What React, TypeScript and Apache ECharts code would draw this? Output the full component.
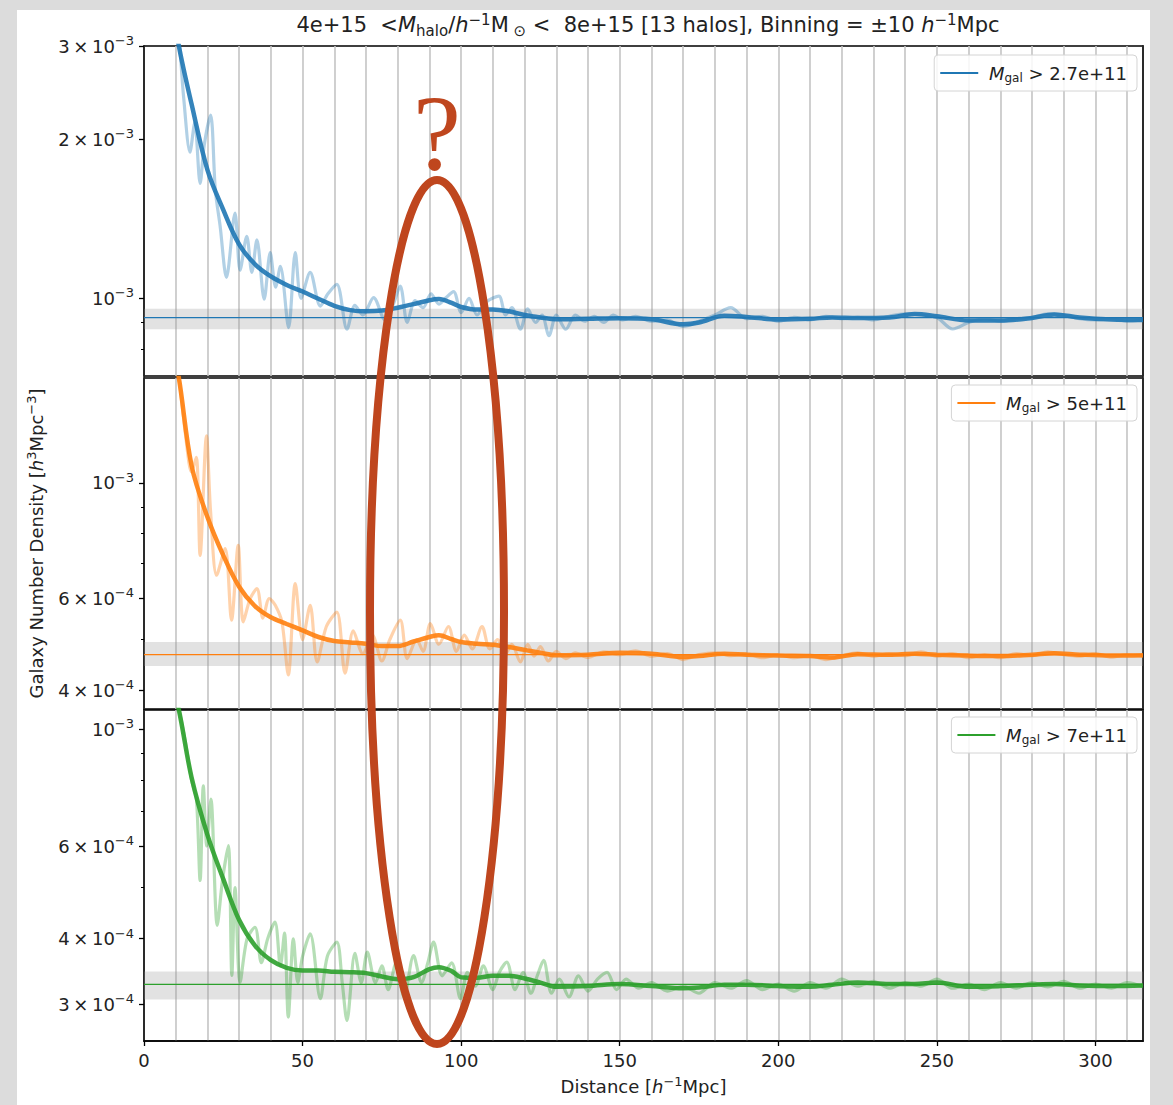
import React, { useEffect, useRef } from "react";
import * as echarts from "echarts";

// ---------- data (densities in units of 10^-3 h^3 Mpc^-3) ----------
const UNIT = 1e-3;
const X_MAX = 315;

const smoothX = [9, 11, 15, 20, 25, 30, 35, 40, 45, 50, 55, 60, 65, 70, 75, 80, 85, 90, 93, 97, 100, 105, 110, 115, 120, 125, 130, 140, 150, 160, 170, 175, 183, 190, 200, 210, 217, 225, 235, 243, 250, 260, 270, 280, 287, 295, 305, 315];
const blueSmooth = [3.6, 3.0, 2.33, 1.75, 1.47, 1.265, 1.16, 1.1, 1.06, 1.03, 0.998, 0.968, 0.95, 0.945, 0.948, 0.96, 0.975, 0.992, 0.997, 0.98, 0.963, 0.952, 0.953, 0.945, 0.93, 0.92, 0.913, 0.915, 0.917, 0.913, 0.893, 0.9, 0.927, 0.922, 0.912, 0.915, 0.92, 0.918, 0.92, 0.934, 0.925, 0.908, 0.908, 0.918, 0.932, 0.92, 0.912, 0.91];
const orangeSmooth = [1.8, 1.59, 1.08, 0.86, 0.726, 0.632, 0.58, 0.552, 0.536, 0.521, 0.506, 0.497, 0.494, 0.491, 0.486, 0.486, 0.496, 0.506, 0.51, 0.501, 0.495, 0.491, 0.489, 0.484, 0.478, 0.472, 0.467, 0.468, 0.472, 0.47, 0.463, 0.465, 0.47, 0.468, 0.466, 0.465, 0.462, 0.469, 0.468, 0.47, 0.468, 0.466, 0.465, 0.468, 0.471, 0.468, 0.466, 0.467];
const greenSmooth = [1.2, 1.088, 0.81, 0.63, 0.519, 0.434, 0.388, 0.364, 0.352, 0.348, 0.348, 0.346, 0.3455, 0.344, 0.339, 0.335, 0.338, 0.35, 0.353, 0.347, 0.338, 0.337, 0.34, 0.34, 0.336, 0.33, 0.324, 0.325, 0.328, 0.325, 0.322, 0.323, 0.327, 0.327, 0.325, 0.324, 0.327, 0.33, 0.328, 0.328, 0.33, 0.324, 0.325, 0.327, 0.328, 0.326, 0.325, 0.326];

const blueNoisyX = [9, 11, 12.5, 14.5, 16, 17.7, 19, 21, 22.5, 24, 26, 28.7, 30.3, 32.4, 34, 35.6, 37.9, 39.8, 41.5, 43, 45.6, 47.7, 49.5, 52.4, 55.6, 58, 60.8, 64, 66.5, 69, 72.4, 76, 78.5, 80.8, 83, 85.5, 88, 90.5, 93, 95, 97.6, 100, 102.5, 105, 108, 111.9, 114, 116, 118.7, 121, 123.5, 125.5, 127.7, 130, 133, 136, 139, 142, 145, 148, 151, 155, 160, 165, 170, 175, 180, 185, 190, 195, 200, 205, 210, 215, 220, 225, 230, 235, 240, 245, 250, 255, 260, 265, 270, 275, 280, 285, 290, 295, 300, 305, 310, 315];
const blueNoisy = [3.7, 3.1, 2.4, 1.89, 2.15, 1.65, 1.95, 2.22, 1.6, 1.37, 1.095, 1.45, 1.13, 1.31, 1.12, 1.29, 0.996, 1.22, 1.05, 1.15, 0.88, 1.22, 1.0, 1.12, 0.967, 1.02, 1.063, 0.874, 0.97, 0.93, 1.003, 0.91, 0.97, 1.055, 0.9, 0.99, 0.96, 1.02, 0.975, 1.0, 1.03, 0.94, 1.0, 0.93, 0.985, 1.01, 0.93, 0.96, 0.874, 0.955, 0.9, 0.93, 0.85, 0.93, 0.874, 0.93, 0.905, 0.925, 0.9, 0.93, 0.91, 0.925, 0.905, 0.91, 0.885, 0.905, 0.93, 0.96, 0.915, 0.925, 0.905, 0.92, 0.91, 0.925, 0.915, 0.92, 0.91, 0.925, 0.935, 0.93, 0.92, 0.875, 0.9, 0.915, 0.905, 0.915, 0.92, 0.935, 0.93, 0.915, 0.91, 0.915, 0.905, 0.91];

const orangeNoisyX = [9, 11, 13, 15, 16.5, 17.7, 19.7, 21, 22.9, 25.6, 27.6, 29.7, 31.3, 33.5, 35.6, 37.5, 39.5, 41.4, 43.5, 45.5, 47.7, 50, 52.4, 54.6, 57.5, 60.8, 63.4, 66, 69, 72, 75, 77.5, 80.8, 83, 86, 88, 90.3, 93, 96, 98.5, 101, 103.5, 106.6, 109, 111.5, 114, 116, 118.7, 121, 123, 125, 127.5, 130, 133, 136, 140, 145, 150, 155, 160, 165, 170, 175, 180, 185, 190, 195, 200, 205, 210, 215, 220, 225, 230, 235, 240, 245, 250, 255, 260, 265, 270, 275, 280, 285, 290, 295, 300, 305, 310, 315];
const orangeNoisy = [1.9, 1.6, 1.25, 1.05, 1.12, 0.726, 1.232, 0.88, 0.665, 0.748, 0.545, 0.759, 0.541, 0.6, 0.627, 0.55, 0.6, 0.582, 0.54, 0.428, 0.641, 0.5, 0.582, 0.453, 0.53, 0.565, 0.431, 0.52, 0.47, 0.51, 0.455, 0.5, 0.545, 0.46, 0.5, 0.475, 0.537, 0.49, 0.53, 0.475, 0.51, 0.48, 0.53, 0.48, 0.5, 0.47, 0.49, 0.453, 0.49, 0.465, 0.485, 0.455, 0.475, 0.46, 0.472, 0.462, 0.474, 0.468, 0.476, 0.465, 0.47, 0.458, 0.468, 0.472, 0.466, 0.47, 0.462, 0.468, 0.462, 0.466, 0.458, 0.466, 0.472, 0.465, 0.47, 0.466, 0.474, 0.465, 0.47, 0.462, 0.468, 0.462, 0.47, 0.466, 0.474, 0.468, 0.465, 0.47, 0.463, 0.468, 0.465];

const greenNoisyX = [9, 11, 13, 15, 16.5, 17.7, 18.7, 19.8, 21.1, 23.1, 24.8, 26.6, 27.7, 28.7, 30.3, 32.5, 35, 37, 39, 41.3, 43, 44.3, 45.5, 47.1, 48.5, 50, 52.4, 55.6, 57.8, 60.8, 62.5, 64, 66.5, 68.5, 70.4, 73, 75, 77, 79.5, 82, 85, 87.5, 89.5, 91.3, 94, 97, 99.8, 102, 104.5, 107, 110, 112, 114.4, 117, 119.5, 122, 124, 126, 128.5, 131, 134, 137, 140, 143, 146, 149, 152, 156, 160, 165, 170, 175, 180, 185, 190, 195, 200, 205, 210, 215, 220, 225, 230, 235, 240, 245, 250, 255, 260, 265, 270, 275, 280, 285, 290, 295, 300, 305, 310, 315];
const greenNoisy = [1.2, 1.09, 0.95, 0.8, 0.74, 0.516, 0.781, 0.6, 0.737, 0.424, 0.52, 0.601, 0.3405, 0.5, 0.3306, 0.4, 0.4205, 0.36, 0.4, 0.43, 0.355, 0.41, 0.2838, 0.3997, 0.33, 0.37, 0.4085, 0.3076, 0.37, 0.394, 0.33, 0.2797, 0.375, 0.33, 0.377, 0.33, 0.355, 0.32, 0.36, 0.31, 0.3713, 0.33, 0.36, 0.394, 0.34, 0.36, 0.3076, 0.345, 0.325, 0.355, 0.32, 0.345, 0.361, 0.32, 0.345, 0.315, 0.34, 0.3636, 0.315, 0.335, 0.31, 0.34, 0.318, 0.335, 0.345, 0.32, 0.335, 0.322, 0.33, 0.318, 0.325, 0.315, 0.33, 0.322, 0.333, 0.32, 0.328, 0.318, 0.33, 0.322, 0.335, 0.325, 0.332, 0.322, 0.33, 0.325, 0.335, 0.322, 0.328, 0.32, 0.33, 0.322, 0.33, 0.324, 0.332, 0.322, 0.328, 0.322, 0.33, 0.324];

const meanValues = [0.919, 0.468, 0.3274];
const bandLow = [0.874, 0.445, 0.3066];
const bandHigh = [0.956, 0.495, 0.3465];
const yMin = [0.713, 0.368, 0.2556];
const yMax = [3.001, 1.591, 1.088];
const majorTicks = [[1, 2, 3], [0.4, 0.6, 1], [0.3, 0.4, 0.6, 1]];
const minorTicks = [[0.8, 0.9], [0.5, 0.7, 0.8, 0.9], [0.5, 0.7, 0.8, 0.9]];
const xTickValues = [0, 50, 100, 150, 200, 250, 300];
const legendLabels = ["2.7e+11", "5e+11", "7e+11"];

// ---------- styling ----------
const FONT = "DejaVu Sans";
const TXT = "#222";
const FS = 18;
const colors = ["#1f77b4", "#ff7f0e", "#2ca02c"];
const gridTops = [46, 378, 710];
const gridHeights = [330, 331, 331];
const legendTops = [55, 385, 717];

const panels = [
  { smooth: blueSmooth, nx: blueNoisyX, noisy: blueNoisy },
  { smooth: orangeSmooth, nx: orangeNoisyX, noisy: orangeNoisy },
  { smooth: greenSmooth, nx: greenNoisyX, noisy: greenNoisy },
];

function sciLabel(v: number) {
  const e = Math.floor(Math.log10(v) + 1e-9);
  const m = Math.round(v / Math.pow(10, e));
  const sup = `{sup|−${-e}}`;
  return m === 1 ? `{b|10}${sup}` : `{b|${m}\u2009×\u200910}${sup}`;
}

const tickRich = {
  b: { fontSize: FS, fontFamily: FONT, color: TXT, lineHeight: 24 },
  sup: { fontSize: 13, fontFamily: FONT, color: TXT, lineHeight: 13, verticalAlign: "top" },
};
const textRich = {
  i: { fontStyle: "italic", fontSize: FS, fontFamily: FONT, color: TXT },
  sup: { fontSize: 13, fontFamily: FONT, color: TXT, lineHeight: 13, verticalAlign: "top" },
  sub: { fontSize: 13, fontFamily: FONT, color: TXT, lineHeight: 13, verticalAlign: "bottom" },
};

function buildOption() {
  const grid = [0, 1, 2].map((i) => ({
    left: 144,
    width: 999,
    top: gridTops[i],
    height: gridHeights[i],
    show: true,
    borderColor: "#000",
    borderWidth: 1.5,
    backgroundColor: "transparent",
  }));

  const xAxis: any[] = [0, 1, 2].map((i) => ({
    type: "value",
    gridIndex: i,
    min: 0,
    max: X_MAX,
    interval: 10,
    axisLine: { show: false },
    axisTick: { show: false },
    axisLabel: { show: false },
    splitLine: { show: true, lineStyle: { color: "#c4c4c4", width: 1.6 } },
  }));
  xAxis.push({
    type: "value",
    gridIndex: 2,
    min: 0,
    max: X_MAX,
    position: "bottom",
    axisLine: { show: true, lineStyle: { color: "#000", width: 1.5 } },
    splitLine: { show: false },
    axisTick: { show: true, length: 5, lineStyle: { color: "#000", width: 1.3 }, customValues: xTickValues },
    axisLabel: { show: true, customValues: xTickValues, fontSize: FS, color: TXT, fontFamily: FONT, margin: 10 },
    name: "Distance [{i|h}{sup|−1}Mpc]",
    nameLocation: "middle",
    nameGap: 34,
    nameTextStyle: { fontSize: FS, color: TXT, fontFamily: FONT, lineHeight: 22, rich: textRich },
  });

  const yAxis: any[] = [];
  [0, 1, 2].forEach((i) => {
    const major = majorTicks[i].map((v) => v * UNIT);
    const minor = minorTicks[i].map((v) => v * UNIT);
    const base = {
      type: "log",
      logBase: 10,
      gridIndex: i,
      min: yMin[i] * UNIT,
      max: yMax[i] * UNIT,
      splitLine: { show: false },
      minorTick: { show: false },
    };
    yAxis.push({
      ...base,
      position: "left",
      axisLine: { show: true, lineStyle: { color: "#000", width: 1.5 } },
      axisTick: { show: true, length: 5, lineStyle: { color: "#000", width: 1.3 }, customValues: major },
      axisLabel: { show: true, customValues: major, formatter: (v: number) => sciLabel(v), margin: 10, rich: tickRich },
      ...(i === 1
        ? {
            name: "Galaxy Number Density [{i|h}{sup|3}Mpc{sup|−3}]",
            nameLocation: "middle",
            nameGap: 96,
            nameRotate: 90,
            nameTextStyle: { fontSize: FS, color: TXT, fontFamily: FONT, lineHeight: 22, rich: textRich },
          }
        : {}),
    });
    yAxis.push({
      ...base,
      position: "left",
      axisLine: { show: false },
      axisTick: { show: true, length: 3, lineStyle: { color: "#000", width: 1 }, customValues: minor },
      axisLabel: { show: false },
    });
    yAxis.push({
      ...base,
      position: "right",
      axisLine: { show: true, lineStyle: { color: "#000", width: 1.5 } },
      axisTick: { show: false },
      axisLabel: { show: false },
    });
  });

  const series: any[] = [];
  panels.forEach((p, i) => {
    const c = colors[i];
    const yi = 3 * i;
    series.push({
      type: "line",
      name: `mean${i}`,
      xAxisIndex: i,
      yAxisIndex: yi,
      data: [
        [0, meanValues[i] * UNIT],
        [X_MAX, meanValues[i] * UNIT],
      ],
      symbol: "none",
      lineStyle: { color: c, width: 1.3 },
      itemStyle: { color: c },
      z: 3,
      silent: true,
      markArea: {
        silent: true,
        itemStyle: { color: "rgba(150,150,150,0.28)" },
        data: [[{ yAxis: bandLow[i] * UNIT }, { yAxis: bandHigh[i] * UNIT }]],
      },
    });
    series.push({
      type: "line",
      name: `noisy${i}`,
      xAxisIndex: i,
      yAxisIndex: yi,
      data: p.nx.map((x, k) => [x, p.noisy[k] * UNIT]),
      symbol: "none",
      smooth: 0.3,
      lineStyle: { color: c, width: 3.2, opacity: 0.35 },
      itemStyle: { color: c },
      z: 4,
      silent: true,
      clip: true,
    });
    series.push({
      type: "line",
      name: `smooth${i}`,
      xAxisIndex: i,
      yAxisIndex: yi,
      data: smoothX.map((x, k) => [x, p.smooth[k] * UNIT]),
      symbol: "none",
      smooth: 0.35,
      lineStyle: { color: c, width: 4.5, opacity: 0.9 },
      itemStyle: { color: c },
      z: 5,
      silent: true,
      clip: true,
    });
  });

  const legend = [0, 1, 2].map((i) => ({
    data: [`mean${i}`],
    right: 36,
    top: legendTops[i],
    selectedMode: false,
    icon: "rect",
    itemWidth: 38,
    itemHeight: 2,
    padding: [7, 10, 7, 6],
    borderColor: "#d4d4d4",
    borderWidth: 1,
    borderRadius: 4,
    backgroundColor: "rgba(255,255,255,0.85)",
    formatter: () => ` {i|M}{sub|gal} > ${legendLabels[i]}`,
    textStyle: {
      fontSize: FS,
      color: TXT,
      fontFamily: FONT,
      lineHeight: 22,
      rich: {
        i: { fontStyle: "italic", fontSize: FS, fontFamily: FONT, color: TXT },
        sub: { fontSize: 12, fontFamily: FONT, color: TXT, lineHeight: 12, verticalAlign: "bottom" },
      },
    },
  }));

  return {
    animation: false,
    title: {
      text: "4e+15  <{i|M}{sub|halo}/{i|h}{sup|−1}M{sub| ⊙} <  8e+15 [13 halos], Binning = ±10 {i|h}{sup|−1}Mpc",
      left: 643,
      textAlign: "center",
      top: 7,
      textStyle: {
        fontSize: 21,
        fontWeight: "normal",
        color: TXT,
        fontFamily: FONT,
        lineHeight: 26,
        rich: {
          i: { fontStyle: "italic", fontSize: 21, fontFamily: FONT, color: TXT },
          sup: { fontSize: 15, fontFamily: FONT, color: TXT, lineHeight: 15, verticalAlign: "top" },
          sub: { fontSize: 15, fontFamily: FONT, color: TXT, lineHeight: 15, verticalAlign: "bottom" },
        },
      },
    },
    grid,
    xAxis,
    yAxis,
    legend,
    series,
    graphic: [
      {
        type: "ellipse",
        z: 100,
        silent: true,
        shape: { cx: 437, cy: 612, rx: 67, ry: 432 },
        style: { fill: "none", stroke: "#bf461e", lineWidth: 8 },
      },
      {
        type: "text",
        z: 100,
        silent: true,
        x: 437,
        y: 132,
        style: {
          text: "?",
          fontSize: 108,
          fontFamily: "Liberation Serif",
          fill: "#bf461e",
          align: "center",
          verticalAlign: "middle",
        },
      },
    ],
  };
}

export default function App() {
  const ref = useRef<HTMLDivElement>(null);
  useEffect(() => {
    if (!ref.current) return;
    const chart = echarts.init(ref.current, null, { renderer: "svg" });
    chart.setOption(buildOption() as any);
    return () => chart.dispose();
  }, []);
  return (
    <div style={{ position: "fixed", left: 0, top: 0, width: 1173, height: 1105, background: "#dcdcdc" }}>
      <div style={{ position: "absolute", left: 17, top: 10, width: 1133, height: 1095, background: "#fff" }} />
      <div ref={ref} style={{ position: "absolute", left: 0, top: 0, width: 1173, height: 1105 }} />
    </div>
  );
}
